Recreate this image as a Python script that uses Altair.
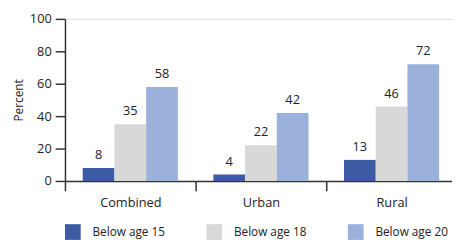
import altair as alt
import pandas as pd

groups = ["Combined", "Urban", "Rural"]
series = ["Below age 15", "Below age 18", "Below age 20"]
below_15 = [8, 4, 13]
below_18 = [35, 22, 46]
below_20 = [58, 42, 72]
colors = ["#3d5ba3", "#d8d8d8", "#9bb0da"]
y_ticks = [0, 20, 40, 60, 80, 100]

rows = []
for s, vals in zip(series, [below_15, below_18, below_20]):
    for g, v in zip(groups, vals):
        rows.append({"group": g, "series": s, "value": v})
df = pd.DataFrame(rows)

FONT = "Open Sans"

base = alt.Chart(df).encode(
    x=alt.X(
        "group:N",
        sort=groups,
        scale=alt.Scale(paddingInner=0, paddingOuter=0, range=[0, 399]),
        axis=alt.Axis(
            title=None, labelAngle=0, tickBand="extent", tickSize=10,
            labelPadding=6, labelFontSize=13, labelColor="#222",
            domainColor="#333", domainWidth=1.5, tickColor="#333", tickWidth=1.5,
            labelFont=FONT,
        ),
    ),
    xOffset=alt.XOffset("series:N", sort=series,
                        scale=alt.Scale(paddingOuter=0.56, paddingInner=0)),
    y=alt.Y(
        "value:Q",
        scale=alt.Scale(domain=[0, 100], nice=False),
        axis=alt.Axis(
            title="Percent", values=y_ticks, grid=False, tickSize=10,
            labelPadding=4, labelFontSize=13, labelColor="#222",
            titleFontSize=12, titleFontWeight="normal", titleColor="#222",
            titlePadding=4, domainColor="#333", domainWidth=1.5,
            tickColor="#333", tickWidth=1.5, labelFont=FONT, titleFont=FONT,
        ),
    ),
)

bars = base.mark_bar().encode(
    color=alt.Color(
        "series:N", sort=series,
        scale=alt.Scale(domain=series, range=colors),
        legend=alt.Legend(
            title=None, orient="none", legendX=0, legendY=209,
            direction="horizontal", columns=3, gridAlign="all",
            symbolType="square", symbolSize=256, symbolStrokeWidth=0,
            labelOffset=12, columnPadding=42, labelFontSize=12,
            labelColor="#222", labelFont=FONT, padding=0, labelLimit=200,
        ),
    )
)

labels = base.mark_text(baseline="bottom", dy=-6, fontSize=13, color="#222", font=FONT).encode(
    text=alt.Text("value:Q")
)

chart = (
    alt.layer(bars, labels)
    .properties(
        width=394,
        height=165,
        autosize=alt.AutoSizeParams(type="none"),
        padding={"left": 58, "top": 9, "right": 0, "bottom": 58},
    )
    .configure_view(stroke=None)
    .configure(font=FONT)
)

chart.save("out.html", embed_options={"renderer": "svg", "actions": False})
